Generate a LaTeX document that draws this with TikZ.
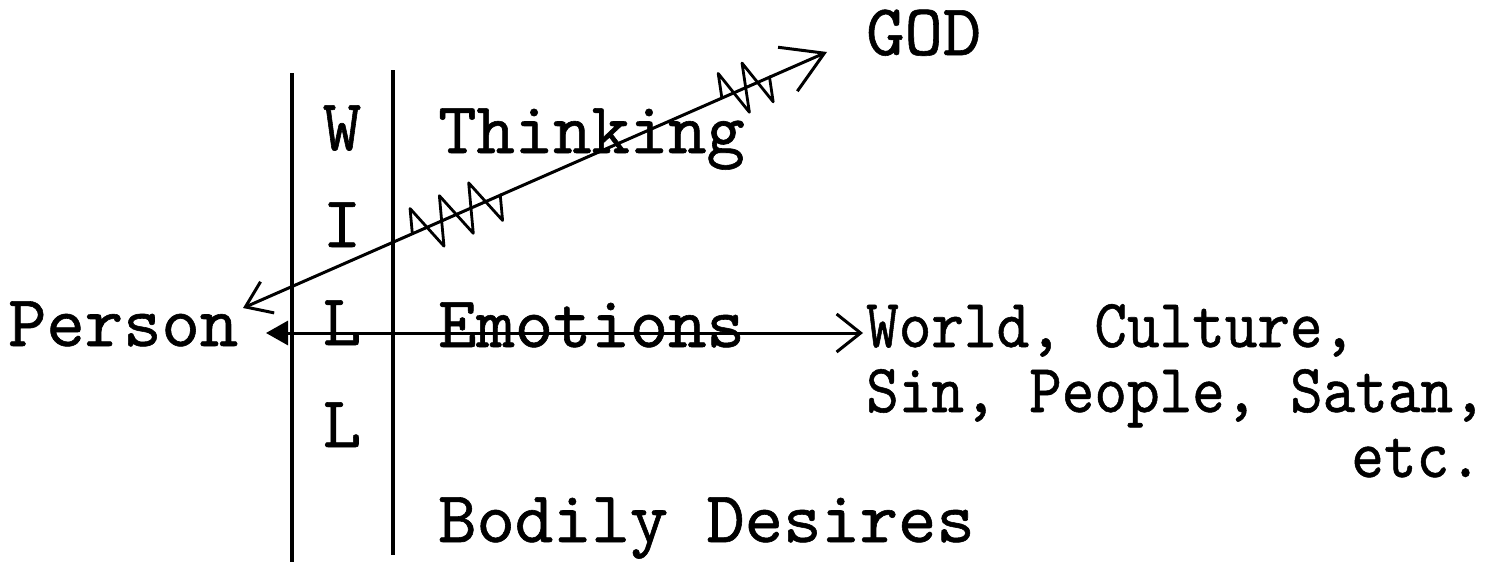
\documentclass[tikz,border=0pt]{standalone}
\usepackage{fontspec}
\newfontfamily\typew{lmmono10-regular.otf}[FakeBold=0.8]
\usetikzlibrary{arrows.meta,decorations.pathmorphing,calc}
\begin{document}
\begin{tikzpicture}[x=1pt,y=-1pt,
  txt/.style={inner sep=0pt, anchor=base west, font=\fontsize{73}{80}\selectfont\typew},
  col/.style={inner sep=0pt, anchor=base, font=\fontsize{73}{80}\selectfont\typew},
  rtxt/.style={inner sep=0pt, anchor=base west, font=\fontsize{69}{76}\selectfont\typew},
  bar/.style={line width=3.6pt},
  link/.style={line width=3pt},
  zz/.style={line width=2.8pt, line join=round, decorate, decoration={zigzag, segment length=#1, amplitude=24pt}}]
\useasboundingbox (0,0) rectangle (1499,562);

% vertical bars of the WILL column
\draw[bar] (292,73) -- (292,562);
\draw[bar] (393,70) -- (393,555);

% texts
\node[txt] (god) at (866,55) {GOD};
\node[txt] (think) at (438,153) {Thinking};
\node[col] (w1) at (342,150) {W};
\node[col] (i1) at (342,247) {I};
\node[col] (l1) at (342,345) {L};
\node[col] (l2) at (342,447) {L};
\node[txt] (person) at (8,346) {Person};
\node[txt] (emo) at (438,347) {Emotions};
\node[rtxt] (world1) at (866,347) {\scalebox{0.9}[1]{World, Culture,}};
\node[rtxt] (world2) at (866,412) {\scalebox{0.9}[1]{Sin, People, Satan,}};
\node[rtxt, anchor=base east] (world3) at (1482,477) {\scalebox{0.9}[1]{etc.}};
\node[txt] (bodily) at (438,542) {Bodily Desires};

% arrow endpoints
\coordinate (perstip) at (243,308);
\coordinate (godtip) at (827,52);
\coordinate (lt) at (266,333);
\coordinate (wt) at (863,333);

% Person <-> GOD (broken)
\draw[link, {Straight Barb[length=24pt,width=34pt]}-{Straight Barb[length=40pt,width=48pt]}] (perstip) -- (godtip);
\draw[zz=32pt] ($(perstip)!0.29!(godtip)$) -- ($(perstip)!0.445!(godtip)$);
\draw[zz=26pt] ($(perstip)!0.82!(godtip)$) -- ($(perstip)!0.905!(godtip)$);

% Person <-> World
\draw[link, {Triangle[length=22pt,width=24pt]}-{Straight Barb[length=24pt,width=38pt]}] (lt) -- (wt);
\end{tikzpicture}
\end{document}
